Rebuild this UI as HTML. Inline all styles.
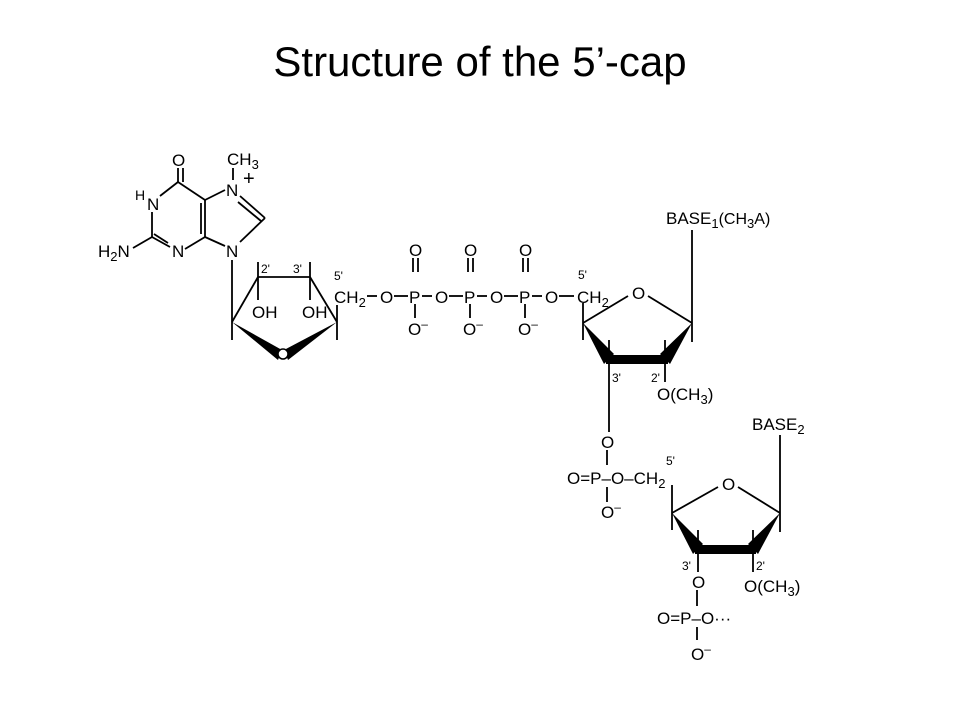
<!DOCTYPE html>
<html><head><meta charset="utf-8"><style>
html,body{margin:0;padding:0;background:#fff;}
svg{display:block}
text{font-family:"Liberation Sans",Arial,sans-serif;fill:#000}
.t{font-size:17px}
.s{font-size:12px}
</style></head><body>
<svg width="960" height="720" viewBox="0 0 960 720" xmlns="http://www.w3.org/2000/svg">
<text x="480" y="76" font-size="42" text-anchor="middle">Structure of the 5’-cap</text>
<g stroke="#000" stroke-width="1.8" fill="none">
<!-- guanine -->
<line x1="178" y1="168" x2="178" y2="182"/><line x1="183" y1="168" x2="183" y2="182"/>
<line x1="178" y1="182" x2="160" y2="196"/>
<line x1="178" y1="182" x2="205" y2="200"/>
<line x1="205" y1="200" x2="205" y2="237"/><line x1="201" y1="203" x2="201" y2="234"/>
<line x1="205" y1="237" x2="185" y2="249"/>
<line x1="170" y1="247" x2="152" y2="237"/><line x1="168" y1="243" x2="154" y2="234"/>
<line x1="152" y1="237" x2="152" y2="212"/>
<line x1="152" y1="237" x2="133" y2="248"/>
<line x1="205" y1="200" x2="225" y2="190"/>
<line x1="205" y1="237" x2="225" y2="246"/>
<line x1="240" y1="196" x2="265" y2="218"/><line x1="238" y1="202" x2="261" y2="221"/>
<line x1="265" y1="218" x2="240" y2="242"/>
<line x1="233" y1="168" x2="233" y2="180"/>
<line x1="232" y1="260" x2="232" y2="340"/>
<!-- ribose 1 -->
<line x1="232" y1="322" x2="258" y2="277"/>
<line x1="258" y1="277" x2="310" y2="277"/>
<line x1="310" y1="277" x2="337" y2="322"/>
<line x1="258" y1="262" x2="258" y2="300"/>
<line x1="310" y1="262" x2="310" y2="300"/>
<line x1="337" y1="305" x2="337" y2="340"/>
<!-- chain bonds -->
<line x1="367" y1="296" x2="377" y2="296"/>
<line x1="394" y1="296" x2="408" y2="296"/>
<line x1="422" y1="296" x2="432" y2="296"/>
<line x1="449" y1="296" x2="463" y2="296"/>
<line x1="477" y1="296" x2="487" y2="296"/>
<line x1="504" y1="296" x2="518" y2="296"/>
<line x1="532" y1="296" x2="542" y2="296"/>
<line x1="559" y1="296" x2="574" y2="296"/>
<!-- phosphates -->
<line x1="413" y1="258" x2="413" y2="272"/><line x1="418" y1="258" x2="418" y2="272"/>
<line x1="468" y1="258" x2="468" y2="272"/><line x1="473" y1="258" x2="473" y2="272"/>
<line x1="523" y1="258" x2="523" y2="272"/><line x1="528" y1="258" x2="528" y2="272"/>
<line x1="415" y1="304" x2="415" y2="318"/><line x1="470" y1="304" x2="470" y2="318"/><line x1="525" y1="304" x2="525" y2="318"/>
<line x1="583" y1="303" x2="583" y2="340"/>
<!-- ribose 2 -->
<line x1="583" y1="323" x2="628" y2="296"/>
<line x1="648" y1="296" x2="692" y2="323"/>
<line x1="692" y1="230" x2="692" y2="342"/>
<line x1="609" y1="340" x2="609" y2="432"/>
<line x1="665" y1="340" x2="665" y2="382"/>
<!-- phosphate 3 -->
<line x1="607" y1="450" x2="607" y2="465"/>
<line x1="607" y1="487" x2="607" y2="502"/>
<line x1="672" y1="485" x2="672" y2="530"/>
<line x1="672" y1="513" x2="718" y2="487"/>
<line x1="738" y1="487" x2="780" y2="513"/>
<line x1="780" y1="435" x2="780" y2="532"/>
<line x1="698" y1="530" x2="698" y2="572"/>
<line x1="753" y1="530" x2="753" y2="572"/>
<line x1="697" y1="590" x2="697" y2="606"/>
<line x1="697" y1="627" x2="697" y2="640"/>
</g>
<g fill="#000">
<polygon points="232,322 282,350 278,360"/>
<polygon points="337,322 284,350 288,360"/>
<ellipse cx="283" cy="354" rx="5" ry="5" fill="#fff" stroke="#000" stroke-width="1.5"/>
<polygon points="583,323 614,354 604,364"/>
<polygon points="606,355 668,355 668,364 606,364"/>
<polygon points="692,323 660,354 670,364"/>
<polygon points="672,513 703,544 693,554"/>
<polygon points="695,545 756,545 756,554 695,554"/>
<polygon points="780,513 748,544 758,554"/>
</g>
<g class="t">
<text x="172" y="166">O</text>
<text x="227" y="165">CH<tspan font-size="13" dy="4">3</tspan></text>
<text x="243" y="185" font-size="20">+</text>
<text x="226" y="196">N</text>
<text x="147" y="210">N</text>
<text x="135" y="200" font-size="14">H</text>
<text x="98" y="257">H<tspan font-size="13" dy="4">2</tspan><tspan dy="-4">N</tspan></text>
<text x="172" y="257">N</text>
<text x="226" y="257">N</text>
<text x="252" y="318">OH</text>
<text x="302" y="318">OH</text>
<text x="334" y="303">CH<tspan font-size="13" dy="4">2</tspan></text>
<text x="380" y="303">O</text><text x="409" y="303">P</text>
<text x="435" y="303">O</text><text x="464" y="303">P</text>
<text x="490" y="303">O</text><text x="519" y="303">P</text>
<text x="545" y="303">O</text>
<text x="577" y="303">CH<tspan font-size="13" dy="4">2</tspan></text>
<text x="409" y="256">O</text><text x="464" y="256">O</text><text x="519" y="256">O</text>
<text x="408" y="335">O<tspan font-size="12" dy="-7">–</tspan></text>
<text x="463" y="335">O<tspan font-size="12" dy="-7">–</tspan></text>
<text x="518" y="335">O<tspan font-size="12" dy="-7">–</tspan></text>
<text x="632" y="299">O</text>
<text x="666" y="224">BASE<tspan font-size="13" dy="4">1</tspan><tspan dy="-4" font-size="16">(CH</tspan><tspan font-size="13" dy="4">3</tspan><tspan dy="-4" font-size="16">A)</tspan></text>
<text x="657" y="400">O(CH<tspan font-size="13" dy="4">3</tspan><tspan dy="-4">)</tspan></text>
<text x="601" y="448">O</text>
<text x="752" y="430">BASE<tspan font-size="13" dy="4">2</tspan></text>
<text x="567" y="484">O=P–O–CH<tspan font-size="13" dy="4">2</tspan></text>
<text x="722" y="490">O</text>
<text x="601" y="518">O<tspan font-size="12" dy="-7">–</tspan></text>
<text x="692" y="588">O</text>
<text x="744" y="592">O(CH<tspan font-size="13" dy="4">3</tspan><tspan dy="-4">)</tspan></text>
<text x="657" y="624">O=P–O···</text>
<text x="691" y="660">O<tspan font-size="12" dy="-7">–</tspan></text>
</g>
<g class="s">
<text x="261" y="273">2'</text><text x="293" y="273">3'</text>
<text x="334" y="280">5'</text>
<text x="578" y="279">5'</text>
<text x="612" y="382">3'</text><text x="651" y="382">2'</text>
<text x="666" y="465">5'</text>
<text x="682" y="570">3'</text><text x="756" y="570">2'</text>
</g>
</svg>
</body></html>
